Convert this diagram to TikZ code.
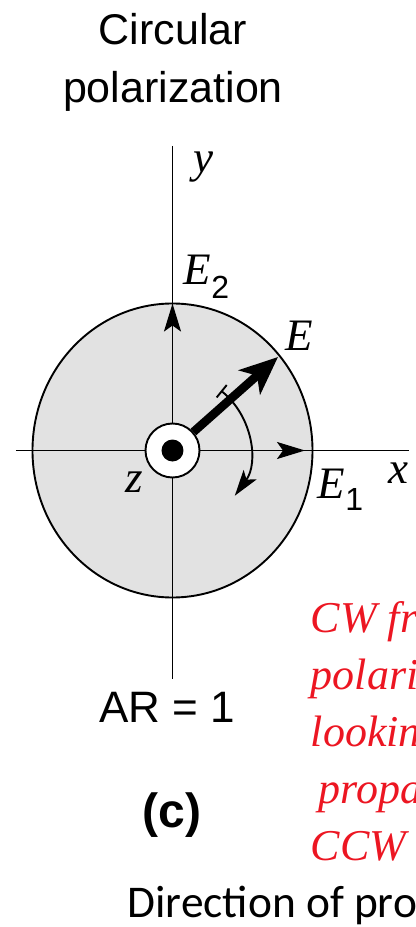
\documentclass[tikz,border=0pt]{standalone}
\usepackage{fontspec}
\usetikzlibrary{arrows.meta}
\newfontfamily\helv{Liberation Sans}
\newfontfamily\tms{Liberation Serif}
\newfontfamily\calib{Carlito}
\definecolor{disc}{RGB}{226, 226, 226}
\definecolor{note}{RGB}{236, 22, 34}

\begin{document}
\begin{tikzpicture}[x=0.5pt, y=0.5pt, line width=0.95pt,
    every node/.style={inner sep=0pt},
    sym/.style={font=\tms\itshape\fontsize{22.5}{22.5}\selectfont},
    axarrow/.style={-{Stealth[length=14pt, width=8.5pt, inset=3pt]}}]
    \useasboundingbox (-172.5,-476.5) rectangle (243.5,450.5);

    % disc and axes
    \draw[fill=disc] (0,0) ellipse[x radius=140, y radius=147];
    \coordinate (ytop) at (0,304.5);
    \coordinate (ybot) at (0,-228.5);
    \coordinate (xleft) at (-156.5,0);
    \coordinate (xright) at (236.5,0);
    \draw (xleft) -- (xright);
    \draw (ytop) -- (ybot);

    % field vectors
    \coordinate (E2tip) at (0,147);
    \coordinate (E1tip) at (132.5,0);
    \coordinate (Etip) at (105.5,93.5);
    \node[circle, draw, fill=white, minimum size=27pt] (ring) at (0,0) {};
    \node[circle, fill=black, minimum size=11pt] (dot) at (0,0) {};
    \draw[axarrow] (ring) -- (E2tip);
    \draw[axarrow] (ring) -- (E1tip);
    \draw[line width=4.3pt, -{Stealth[length=19pt, width=16pt, inset=5pt]}] (ring) -- (Etip);
    \draw[{Bar[width=8pt]}-{Stealth[length=13pt, width=8pt, inset=3pt]}] (51:77) arc[start angle=51, end angle=-36, radius=77];

    % labels
    \node[sym, anchor=base west] (ylab) at (20.5,277.5) {y};
    \node[sym, anchor=base west] (E2lab) at (10.5,165.5) {E\raisebox{-6.5pt}{\helv\upshape\fontsize{16}{16}\selectfont 2}};
    \node[sym, anchor=base west] (Elab) at (112.5,100.5) {E};
    \node[sym, anchor=base west] (E1lab) at (144.5,-47.5) {E\raisebox{-6pt}{\helv\upshape\fontsize{16}{16}\selectfont 1}};
    \node[sym, anchor=base west] (xlab) at (215.5,-32.5) {x};
    \node[sym, anchor=base west] (zlab) at (-47.5,-41.5) {z};

    % captions
    \node[font=\helv\fontsize{21.5}{21.5}\selectfont, anchor=base] (title1) at (0.5,405.5) {Circular};
    \node[font=\helv\fontsize{21.5}{21.5}\selectfont, anchor=base] (title2) at (0.5,347.5) {polarization};
    \node[font=\helv\fontsize{22}{22}\selectfont, anchor=base] (ar) at (-5.5,-271.5) {AR = 1};
    \node[font=\helv\bfseries\fontsize{24}{24}\selectfont, anchor=base] (part) at (-0.5,-376.5) {(c)};
    \node[font=\tms\itshape\fontsize{22}{28.5}\selectfont, text=note, align=left, anchor=base west] (note) at (137.5,-409.5)
        {CW from\\polarization\\looking in\\\hspace{4pt}propagation\\CCW (RH)};
    \node[font=\calib\fontsize{22.7}{22.7}\selectfont, anchor=base west] (dir) at (-46,-466.5) {Direction of propagation};
\end{tikzpicture}
\end{document}
